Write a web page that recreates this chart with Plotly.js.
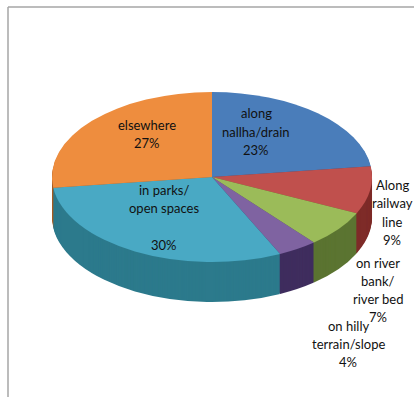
<!DOCTYPE html>
<html>
<head>
<meta charset="utf-8">
<script src="https://cdn.plot.ly/plotly-3.0.1.min.js"></script>
<style>
  html, body { margin: 0; padding: 0; background: #ffffff; }
  #chart { width: 414px; height: 397px; }
</style>
</head>
<body>
<div id="chart"></div>
<script>
// Where people go: share of respondents by location
const categories = [
  'along<br>nallha/drain',
  'Along<br>railway<br>line',
  'on river<br>bank/<br>river bed',
  'on hilly<br>terrain/slope',
  'in parks/<br>open spaces<br>',
  'elsewhere'
];
const shares = [23, 9, 7, 4, 30, 27];

// top face and side (rim) colours per slice
const topColors  = ['#4A7DBA', '#C0504D', '#9BBB59', '#7F63A1', '#49A9C4', '#EE8D3E'];
const sideColors = ['#2E5283', '#7E2B28', '#5B7431', '#3F2D5E', '#2C7A8C', '#A65B22'];

// label centres in pixels
const labelPos = [[256, 131.5], [392, 212.5], [378, 290], [348, 344], [164, 217.5], [147, 134]];
const lineGap = 18.3;

const W = 414, H = 397;
// disc geometry: an unsquashed circle is drawn, then flattened into an ellipse
const cx = 212, cy = 177, R = 100, sx = 1.6, sy = 0.85, rimDepth = 40;

function pieDomain(centerY) {
  return {
    x: [(cx - R) / W, (cx + R) / W],
    y: [1 - (centerY + R) / H, 1 - (centerY - R) / H]
  };
}

function pieTrace(colors, centerY) {
  return {
    type: 'pie',
    values: shares,
    labels: categories,
    sort: false,
    direction: 'clockwise',
    rotation: 0,
    textinfo: 'none',
    hoverinfo: 'skip',
    showlegend: false,
    marker: { colors: colors, line: { width: 0 } },
    domain: pieDomain(centerY)
  };
}

const traces = [];
// rim: stacked copies from the bottom up
for (let d = rimDepth; d >= 1; d--) {
  traces.push(pieTrace(sideColors, cy + d / sy));
}
// top face
traces.push(pieTrace(topColors, cy));

// slice labels, one text line per annotation for a roomier line height
const annotations = [];
categories.forEach((name, i) => {
  const lines = (name + '<br>' + shares[i] + '%').split('<br>');
  lines.forEach((line, j) => {
    if (!line) return;
    const py = labelPos[i][1] + (j - (lines.length - 1) / 2) * lineGap;
    annotations.push({
      xref: 'paper', yref: 'paper',
      x: labelPos[i][0] / W,
      y: 1 - py / H,
      xanchor: 'center', yanchor: 'middle',
      showarrow: false,
      text: line,
      font: { family: 'Lato, "Open Sans", sans-serif', size: 13, color: '#111111' }
    });
  });
});

const frameColor = '#a6a6a6';
const layout = {
  width: W, height: H,
  margin: { l: 0, r: 0, t: 0, b: 0 },
  paper_bgcolor: '#ffffff',
  showlegend: false,
  annotations: annotations,
  shapes: [
    { type: 'line', xref: 'paper', yref: 'paper', x0: 8 / W, x1: 1, y0: 1 - 7 / H, y1: 1 - 7 / H,
      line: { color: frameColor, width: 1.5 } },
    { type: 'line', xref: 'paper', yref: 'paper', x0: 8 / W, x1: 8 / W, y0: 1 - 7 / H, y1: 0,
      line: { color: frameColor, width: 1.5 } }
  ]
};

Plotly.newPlot('chart', traces, layout, { staticPlot: true, displayModeBar: false }).then(gd => {
  // flatten the disc into a tilted ellipse around its centre
  const pies = gd.querySelector('.pielayer');
  if (pies) {
    pies.setAttribute('transform',
      'translate(' + cx + ',' + cy + ') scale(' + sx + ',' + sy + ') translate(' + (-cx) + ',' + (-cy) + ')');
  }
});
</script>
</body>
</html>
